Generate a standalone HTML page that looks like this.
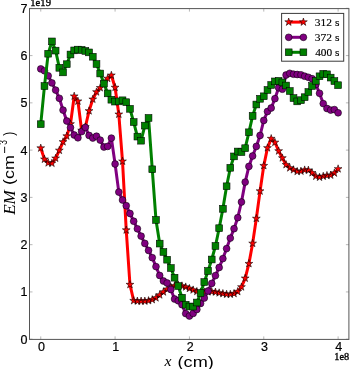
<!DOCTYPE html><html><head><meta charset="utf-8"><style>html,body{margin:0;padding:0;background:#fff;overflow:hidden;}svg{display:block;will-change:transform;}</style></head><body><svg width="350" height="369" viewBox="0 0 350 369"><rect width="350" height="369" fill="#fff"/><defs><clipPath id="c"><rect x="29.5" y="8.6" width="319.4" height="330.79999999999995"/></clipPath></defs><g clip-path="url(#c)"><polyline points="40.75,148.10 44.47,159.30 48.18,162.90 51.90,163.30 55.62,158.30 59.34,150.40 63.05,141.90 66.77,136.10 70.49,124.00 74.20,96.20 77.92,101.20 81.64,130.50 85.35,127.00 89.07,110.90 92.79,99.30 96.50,92.00 100.22,87.80 103.94,83.00 107.66,78.50 111.37,75.30 115.09,87.50 118.81,114.30 122.52,161.30 126.24,230.10 129.96,284.60 133.68,300.70 137.39,301.10 141.11,301.10 144.83,301.10 148.54,300.70 152.26,299.70 155.98,297.90 159.69,295.00 163.41,292.00 167.13,289.20 170.84,287.20 174.56,285.80 178.28,285.10 182.00,285.90 185.71,287.00 189.43,288.50 193.15,290.00 196.86,291.50 200.58,292.00 204.30,292.00 208.02,291.80 211.73,291.60 215.45,292.10 219.17,292.90 222.88,293.60 226.60,294.30 230.32,294.30 234.03,293.60 237.75,291.60 241.47,287.00 245.19,278.30 248.90,263.70 252.62,243.40 256.34,218.50 260.05,191.10 263.77,165.70 267.49,147.90 271.20,138.60 274.92,142.40 278.64,151.00 282.36,158.00 286.07,164.70 289.79,167.90 293.51,169.80 297.22,171.50 300.94,171.20 304.66,170.00 308.37,170.20 312.09,172.80 315.81,176.30 319.53,177.30 323.24,176.30 326.96,175.50 330.68,175.20 334.39,173.10 338.11,168.90" fill="none" stroke="#ff0000" stroke-width="3.0" stroke-linejoin="round" stroke-linecap="butt"/><g fill="#ff0000" stroke="#000" stroke-width="0.55" stroke-linejoin="miter"><path d="M40.75,144.00 L39.83,146.83 L36.85,146.83 L39.26,148.58 L38.34,151.42 L40.75,149.67 L43.16,151.42 L42.24,148.58 L44.65,146.83 L41.67,146.83ZM44.47,155.20 L43.55,158.03 L40.57,158.03 L42.98,159.78 L42.06,162.62 L44.47,160.87 L46.88,162.62 L45.96,159.78 L48.37,158.03 L45.39,158.03ZM48.18,158.80 L47.26,161.63 L44.28,161.63 L46.69,163.38 L45.77,166.22 L48.18,164.47 L50.59,166.22 L49.67,163.38 L52.08,161.63 L49.10,161.63ZM51.90,159.20 L50.98,162.03 L48.00,162.03 L50.41,163.78 L49.49,166.62 L51.90,164.87 L54.31,166.62 L53.39,163.78 L55.80,162.03 L52.82,162.03ZM55.62,154.20 L54.70,157.03 L51.72,157.03 L54.13,158.78 L53.21,161.62 L55.62,159.87 L58.03,161.62 L57.11,158.78 L59.52,157.03 L56.54,157.03ZM59.34,146.30 L58.41,149.13 L55.44,149.13 L57.85,150.88 L56.93,153.72 L59.34,151.97 L61.74,153.72 L60.82,150.88 L63.23,149.13 L60.26,149.13ZM63.05,137.80 L62.13,140.63 L59.15,140.63 L61.56,142.38 L60.64,145.22 L63.05,143.47 L65.46,145.22 L64.54,142.38 L66.95,140.63 L63.97,140.63ZM66.77,132.00 L65.85,134.83 L62.87,134.83 L65.28,136.58 L64.36,139.42 L66.77,137.67 L69.18,139.42 L68.26,136.58 L70.67,134.83 L67.69,134.83ZM70.49,119.90 L69.57,122.73 L66.59,122.73 L69.00,124.48 L68.08,127.32 L70.49,125.57 L72.90,127.32 L71.98,124.48 L74.39,122.73 L71.41,122.73ZM74.20,92.10 L73.28,94.93 L70.30,94.93 L72.71,96.68 L71.79,99.52 L74.20,97.77 L76.61,99.52 L75.69,96.68 L78.10,94.93 L75.12,94.93ZM77.92,97.10 L77.00,99.93 L74.02,99.93 L76.43,101.68 L75.51,104.52 L77.92,102.77 L80.33,104.52 L79.41,101.68 L81.82,99.93 L78.84,99.93ZM81.64,126.40 L80.72,129.23 L77.74,129.23 L80.15,130.98 L79.23,133.82 L81.64,132.07 L84.05,133.82 L83.13,130.98 L85.54,129.23 L82.56,129.23ZM85.35,122.90 L84.43,125.73 L81.45,125.73 L83.86,127.48 L82.94,130.32 L85.35,128.57 L87.76,130.32 L86.84,127.48 L89.25,125.73 L86.27,125.73ZM89.07,106.80 L88.15,109.63 L85.17,109.63 L87.58,111.38 L86.66,114.22 L89.07,112.47 L91.48,114.22 L90.56,111.38 L92.97,109.63 L89.99,109.63ZM92.79,95.20 L91.87,98.03 L88.89,98.03 L91.30,99.78 L90.38,102.62 L92.79,100.87 L95.20,102.62 L94.28,99.78 L96.69,98.03 L93.71,98.03ZM96.50,87.90 L95.58,90.73 L92.61,90.73 L95.02,92.48 L94.10,95.32 L96.50,93.57 L98.91,95.32 L97.99,92.48 L100.40,90.73 L97.43,90.73ZM100.22,83.70 L99.30,86.53 L96.32,86.53 L98.73,88.28 L97.81,91.12 L100.22,89.37 L102.63,91.12 L101.71,88.28 L104.12,86.53 L101.14,86.53ZM103.94,78.90 L103.02,81.73 L100.04,81.73 L102.45,83.48 L101.53,86.32 L103.94,84.57 L106.35,86.32 L105.43,83.48 L107.84,81.73 L104.86,81.73ZM107.66,74.40 L106.74,77.23 L103.76,77.23 L106.17,78.98 L105.25,81.82 L107.66,80.07 L110.07,81.82 L109.15,78.98 L111.56,77.23 L108.58,77.23ZM111.37,71.20 L110.45,74.03 L107.47,74.03 L109.88,75.78 L108.96,78.62 L111.37,76.87 L113.78,78.62 L112.86,75.78 L115.27,74.03 L112.29,74.03ZM115.09,83.40 L114.17,86.23 L111.19,86.23 L113.60,87.98 L112.68,90.82 L115.09,89.07 L117.50,90.82 L116.58,87.98 L118.99,86.23 L116.01,86.23ZM118.81,110.20 L117.89,113.03 L114.91,113.03 L117.32,114.78 L116.40,117.62 L118.81,115.87 L121.22,117.62 L120.30,114.78 L122.71,113.03 L119.73,113.03ZM122.52,157.20 L121.60,160.03 L118.62,160.03 L121.03,161.78 L120.11,164.62 L122.52,162.87 L124.93,164.62 L124.01,161.78 L126.42,160.03 L123.44,160.03ZM126.24,226.00 L125.32,228.83 L122.34,228.83 L124.75,230.58 L123.83,233.42 L126.24,231.67 L128.65,233.42 L127.73,230.58 L130.14,228.83 L127.16,228.83ZM129.96,280.50 L129.04,283.33 L126.06,283.33 L128.47,285.08 L127.55,287.92 L129.96,286.17 L132.37,287.92 L131.45,285.08 L133.86,283.33 L130.88,283.33ZM133.68,296.60 L132.75,299.43 L129.78,299.43 L132.19,301.18 L131.27,304.02 L133.68,302.27 L136.08,304.02 L135.16,301.18 L137.57,299.43 L134.60,299.43ZM137.39,297.00 L136.47,299.83 L133.49,299.83 L135.90,301.58 L134.98,304.42 L137.39,302.67 L139.80,304.42 L138.88,301.58 L141.29,299.83 L138.31,299.83ZM141.11,297.00 L140.19,299.83 L137.21,299.83 L139.62,301.58 L138.70,304.42 L141.11,302.67 L143.52,304.42 L142.60,301.58 L145.01,299.83 L142.03,299.83ZM144.83,297.00 L143.91,299.83 L140.93,299.83 L143.34,301.58 L142.42,304.42 L144.83,302.67 L147.24,304.42 L146.32,301.58 L148.73,299.83 L145.75,299.83ZM148.54,296.60 L147.62,299.43 L144.64,299.43 L147.05,301.18 L146.13,304.02 L148.54,302.27 L150.95,304.02 L150.03,301.18 L152.44,299.43 L149.46,299.43ZM152.26,295.60 L151.34,298.43 L148.36,298.43 L150.77,300.18 L149.85,303.02 L152.26,301.27 L154.67,303.02 L153.75,300.18 L156.16,298.43 L153.18,298.43ZM155.98,293.80 L155.06,296.63 L152.08,296.63 L154.49,298.38 L153.57,301.22 L155.98,299.47 L158.39,301.22 L157.47,298.38 L159.88,296.63 L156.90,296.63ZM159.69,290.90 L158.77,293.73 L155.79,293.73 L158.20,295.48 L157.28,298.32 L159.69,296.57 L162.10,298.32 L161.18,295.48 L163.59,293.73 L160.61,293.73ZM163.41,287.90 L162.49,290.73 L159.51,290.73 L161.92,292.48 L161.00,295.32 L163.41,293.57 L165.82,295.32 L164.90,292.48 L167.31,290.73 L164.33,290.73ZM167.13,285.10 L166.21,287.93 L163.23,287.93 L165.64,289.68 L164.72,292.52 L167.13,290.77 L169.54,292.52 L168.62,289.68 L171.03,287.93 L168.05,287.93ZM170.84,283.10 L169.92,285.93 L166.95,285.93 L169.36,287.68 L168.44,290.52 L170.84,288.77 L173.25,290.52 L172.33,287.68 L174.74,285.93 L171.77,285.93ZM174.56,281.70 L173.64,284.53 L170.66,284.53 L173.07,286.28 L172.15,289.12 L174.56,287.37 L176.97,289.12 L176.05,286.28 L178.46,284.53 L175.48,284.53ZM178.28,281.00 L177.36,283.83 L174.38,283.83 L176.79,285.58 L175.87,288.42 L178.28,286.67 L180.69,288.42 L179.77,285.58 L182.18,283.83 L179.20,283.83ZM182.00,281.80 L181.08,284.63 L178.10,284.63 L180.51,286.38 L179.59,289.22 L182.00,287.47 L184.41,289.22 L183.49,286.38 L185.90,284.63 L182.92,284.63ZM185.71,282.90 L184.79,285.73 L181.81,285.73 L184.22,287.48 L183.30,290.32 L185.71,288.57 L188.12,290.32 L187.20,287.48 L189.61,285.73 L186.63,285.73ZM189.43,284.40 L188.51,287.23 L185.53,287.23 L187.94,288.98 L187.02,291.82 L189.43,290.07 L191.84,291.82 L190.92,288.98 L193.33,287.23 L190.35,287.23ZM193.15,285.90 L192.23,288.73 L189.25,288.73 L191.66,290.48 L190.74,293.32 L193.15,291.57 L195.56,293.32 L194.64,290.48 L197.05,288.73 L194.07,288.73ZM196.86,287.40 L195.94,290.23 L192.96,290.23 L195.37,291.98 L194.45,294.82 L196.86,293.07 L199.27,294.82 L198.35,291.98 L200.76,290.23 L197.78,290.23ZM200.58,287.90 L199.66,290.73 L196.68,290.73 L199.09,292.48 L198.17,295.32 L200.58,293.57 L202.99,295.32 L202.07,292.48 L204.48,290.73 L201.50,290.73ZM204.30,287.90 L203.38,290.73 L200.40,290.73 L202.81,292.48 L201.89,295.32 L204.30,293.57 L206.71,295.32 L205.79,292.48 L208.20,290.73 L205.22,290.73ZM208.02,287.70 L207.09,290.53 L204.12,290.53 L206.53,292.28 L205.61,295.12 L208.02,293.37 L210.42,295.12 L209.50,292.28 L211.91,290.53 L208.94,290.53ZM211.73,287.50 L210.81,290.33 L207.83,290.33 L210.24,292.08 L209.32,294.92 L211.73,293.17 L214.14,294.92 L213.22,292.08 L215.63,290.33 L212.65,290.33ZM215.45,288.00 L214.53,290.83 L211.55,290.83 L213.96,292.58 L213.04,295.42 L215.45,293.67 L217.86,295.42 L216.94,292.58 L219.35,290.83 L216.37,290.83ZM219.17,288.80 L218.25,291.63 L215.27,291.63 L217.68,293.38 L216.76,296.22 L219.17,294.47 L221.58,296.22 L220.66,293.38 L223.07,291.63 L220.09,291.63ZM222.88,289.50 L221.96,292.33 L218.98,292.33 L221.39,294.08 L220.47,296.92 L222.88,295.17 L225.29,296.92 L224.37,294.08 L226.78,292.33 L223.80,292.33ZM226.60,290.20 L225.68,293.03 L222.70,293.03 L225.11,294.78 L224.19,297.62 L226.60,295.87 L229.01,297.62 L228.09,294.78 L230.50,293.03 L227.52,293.03ZM230.32,290.20 L229.40,293.03 L226.42,293.03 L228.83,294.78 L227.91,297.62 L230.32,295.87 L232.73,297.62 L231.81,294.78 L234.22,293.03 L231.24,293.03ZM234.03,289.50 L233.11,292.33 L230.13,292.33 L232.54,294.08 L231.62,296.92 L234.03,295.17 L236.44,296.92 L235.52,294.08 L237.93,292.33 L234.95,292.33ZM237.75,287.50 L236.83,290.33 L233.85,290.33 L236.26,292.08 L235.34,294.92 L237.75,293.17 L240.16,294.92 L239.24,292.08 L241.65,290.33 L238.67,290.33ZM241.47,282.90 L240.55,285.73 L237.57,285.73 L239.98,287.48 L239.06,290.32 L241.47,288.57 L243.88,290.32 L242.96,287.48 L245.37,285.73 L242.39,285.73ZM245.19,274.20 L244.26,277.03 L241.29,277.03 L243.70,278.78 L242.78,281.62 L245.19,279.87 L247.59,281.62 L246.67,278.78 L249.08,277.03 L246.11,277.03ZM248.90,259.60 L247.98,262.43 L245.00,262.43 L247.41,264.18 L246.49,267.02 L248.90,265.27 L251.31,267.02 L250.39,264.18 L252.80,262.43 L249.82,262.43ZM252.62,239.30 L251.70,242.13 L248.72,242.13 L251.13,243.88 L250.21,246.72 L252.62,244.97 L255.03,246.72 L254.11,243.88 L256.52,242.13 L253.54,242.13ZM256.34,214.40 L255.42,217.23 L252.44,217.23 L254.85,218.98 L253.93,221.82 L256.34,220.07 L258.75,221.82 L257.83,218.98 L260.24,217.23 L257.26,217.23ZM260.05,187.00 L259.13,189.83 L256.15,189.83 L258.56,191.58 L257.64,194.42 L260.05,192.67 L262.46,194.42 L261.54,191.58 L263.95,189.83 L260.97,189.83ZM263.77,161.60 L262.85,164.43 L259.87,164.43 L262.28,166.18 L261.36,169.02 L263.77,167.27 L266.18,169.02 L265.26,166.18 L267.67,164.43 L264.69,164.43ZM267.49,143.80 L266.57,146.63 L263.59,146.63 L266.00,148.38 L265.08,151.22 L267.49,149.47 L269.90,151.22 L268.98,148.38 L271.39,146.63 L268.41,146.63ZM271.20,134.50 L270.28,137.33 L267.30,137.33 L269.71,139.08 L268.79,141.92 L271.20,140.17 L273.61,141.92 L272.69,139.08 L275.10,137.33 L272.12,137.33ZM274.92,138.30 L274.00,141.13 L271.02,141.13 L273.43,142.88 L272.51,145.72 L274.92,143.97 L277.33,145.72 L276.41,142.88 L278.82,141.13 L275.84,141.13ZM278.64,146.90 L277.72,149.73 L274.74,149.73 L277.15,151.48 L276.23,154.32 L278.64,152.57 L281.05,154.32 L280.13,151.48 L282.54,149.73 L279.56,149.73ZM282.36,153.90 L281.43,156.73 L278.46,156.73 L280.87,158.48 L279.95,161.32 L282.36,159.57 L284.76,161.32 L283.84,158.48 L286.25,156.73 L283.28,156.73ZM286.07,160.60 L285.15,163.43 L282.17,163.43 L284.58,165.18 L283.66,168.02 L286.07,166.27 L288.48,168.02 L287.56,165.18 L289.97,163.43 L286.99,163.43ZM289.79,163.80 L288.87,166.63 L285.89,166.63 L288.30,168.38 L287.38,171.22 L289.79,169.47 L292.20,171.22 L291.28,168.38 L293.69,166.63 L290.71,166.63ZM293.51,165.70 L292.59,168.53 L289.61,168.53 L292.02,170.28 L291.10,173.12 L293.51,171.37 L295.92,173.12 L295.00,170.28 L297.41,168.53 L294.43,168.53ZM297.22,167.40 L296.30,170.23 L293.32,170.23 L295.73,171.98 L294.81,174.82 L297.22,173.07 L299.63,174.82 L298.71,171.98 L301.12,170.23 L298.14,170.23ZM300.94,167.10 L300.02,169.93 L297.04,169.93 L299.45,171.68 L298.53,174.52 L300.94,172.77 L303.35,174.52 L302.43,171.68 L304.84,169.93 L301.86,169.93ZM304.66,165.90 L303.74,168.73 L300.76,168.73 L303.17,170.48 L302.25,173.32 L304.66,171.57 L307.07,173.32 L306.15,170.48 L308.56,168.73 L305.58,168.73ZM308.37,166.10 L307.45,168.93 L304.47,168.93 L306.88,170.68 L305.96,173.52 L308.37,171.77 L310.78,173.52 L309.86,170.68 L312.27,168.93 L309.29,168.93ZM312.09,168.70 L311.17,171.53 L308.19,171.53 L310.60,173.28 L309.68,176.12 L312.09,174.37 L314.50,176.12 L313.58,173.28 L315.99,171.53 L313.01,171.53ZM315.81,172.20 L314.89,175.03 L311.91,175.03 L314.32,176.78 L313.40,179.62 L315.81,177.87 L318.22,179.62 L317.30,176.78 L319.71,175.03 L316.73,175.03ZM319.53,173.20 L318.60,176.03 L315.63,176.03 L318.04,177.78 L317.12,180.62 L319.53,178.87 L321.93,180.62 L321.01,177.78 L323.42,176.03 L320.45,176.03ZM323.24,172.20 L322.32,175.03 L319.34,175.03 L321.75,176.78 L320.83,179.62 L323.24,177.87 L325.65,179.62 L324.73,176.78 L327.14,175.03 L324.16,175.03ZM326.96,171.40 L326.04,174.23 L323.06,174.23 L325.47,175.98 L324.55,178.82 L326.96,177.07 L329.37,178.82 L328.45,175.98 L330.86,174.23 L327.88,174.23ZM330.68,171.10 L329.76,173.93 L326.78,173.93 L329.19,175.68 L328.27,178.52 L330.68,176.77 L333.09,178.52 L332.17,175.68 L334.58,173.93 L331.60,173.93ZM334.39,169.00 L333.47,171.83 L330.49,171.83 L332.90,173.58 L331.98,176.42 L334.39,174.67 L336.80,176.42 L335.88,173.58 L338.29,171.83 L335.31,171.83ZM338.11,164.80 L337.19,167.63 L334.21,167.63 L336.62,169.38 L335.70,172.22 L338.11,170.47 L340.52,172.22 L339.60,169.38 L342.01,167.63 L339.03,167.63Z"/></g><polyline points="40.75,68.90 44.47,70.80 48.18,75.80 51.90,82.90 55.62,90.10 59.34,98.30 63.05,110.10 66.77,121.00 70.49,127.60 74.20,135.00 77.92,137.80 81.64,131.60 85.35,127.40 89.07,135.40 92.79,138.00 96.50,136.20 100.22,140.10 103.94,147.00 107.66,146.40 111.37,138.10 115.09,164.00 118.81,192.10 122.52,200.00 126.24,205.70 129.96,213.50 133.68,221.20 137.39,228.80 141.11,236.10 144.83,243.40 148.54,250.40 152.26,257.70 155.98,266.60 159.69,275.50 163.41,281.00 167.13,283.00 170.84,289.50 174.56,299.00 178.28,300.80 182.00,304.70 185.71,313.60 189.43,316.00 193.15,313.40 196.86,309.50 200.58,303.50 204.30,298.00 208.02,291.00 211.73,283.40 215.45,275.60 219.17,267.50 222.88,258.60 226.60,248.60 230.32,238.10 234.03,228.70 237.75,217.70 241.47,202.00 245.19,182.10 248.90,166.40 252.62,156.00 256.34,146.40 260.05,135.50 263.77,120.40 267.49,111.50 271.20,108.00 274.92,98.70 278.64,87.70 282.36,89.20 286.07,75.00 289.79,73.30 293.51,74.20 297.22,74.50 300.94,74.80 304.66,76.20 308.37,77.30 312.09,78.70 315.81,84.40 319.53,93.30 323.24,103.60 326.96,108.50 330.68,110.10 334.39,109.60 338.11,112.80" fill="none" stroke="#800080" stroke-width="3.0" stroke-linejoin="round" stroke-linecap="butt"/><g fill="#800080" stroke="#000" stroke-width="0.55"><circle cx="40.75" cy="68.90" r="3.40"/><circle cx="44.47" cy="70.80" r="3.40"/><circle cx="48.18" cy="75.80" r="3.40"/><circle cx="51.90" cy="82.90" r="3.40"/><circle cx="55.62" cy="90.10" r="3.40"/><circle cx="59.34" cy="98.30" r="3.40"/><circle cx="63.05" cy="110.10" r="3.40"/><circle cx="66.77" cy="121.00" r="3.40"/><circle cx="70.49" cy="127.60" r="3.40"/><circle cx="74.20" cy="135.00" r="3.40"/><circle cx="77.92" cy="137.80" r="3.40"/><circle cx="81.64" cy="131.60" r="3.40"/><circle cx="85.35" cy="127.40" r="3.40"/><circle cx="89.07" cy="135.40" r="3.40"/><circle cx="92.79" cy="138.00" r="3.40"/><circle cx="96.50" cy="136.20" r="3.40"/><circle cx="100.22" cy="140.10" r="3.40"/><circle cx="103.94" cy="147.00" r="3.40"/><circle cx="107.66" cy="146.40" r="3.40"/><circle cx="111.37" cy="138.10" r="3.40"/><circle cx="115.09" cy="164.00" r="3.40"/><circle cx="118.81" cy="192.10" r="3.40"/><circle cx="122.52" cy="200.00" r="3.40"/><circle cx="126.24" cy="205.70" r="3.40"/><circle cx="129.96" cy="213.50" r="3.40"/><circle cx="133.68" cy="221.20" r="3.40"/><circle cx="137.39" cy="228.80" r="3.40"/><circle cx="141.11" cy="236.10" r="3.40"/><circle cx="144.83" cy="243.40" r="3.40"/><circle cx="148.54" cy="250.40" r="3.40"/><circle cx="152.26" cy="257.70" r="3.40"/><circle cx="155.98" cy="266.60" r="3.40"/><circle cx="159.69" cy="275.50" r="3.40"/><circle cx="163.41" cy="281.00" r="3.40"/><circle cx="167.13" cy="283.00" r="3.40"/><circle cx="170.84" cy="289.50" r="3.40"/><circle cx="174.56" cy="299.00" r="3.40"/><circle cx="178.28" cy="300.80" r="3.40"/><circle cx="182.00" cy="304.70" r="3.40"/><circle cx="185.71" cy="313.60" r="3.40"/><circle cx="189.43" cy="316.00" r="3.40"/><circle cx="193.15" cy="313.40" r="3.40"/><circle cx="196.86" cy="309.50" r="3.40"/><circle cx="200.58" cy="303.50" r="3.40"/><circle cx="204.30" cy="298.00" r="3.40"/><circle cx="208.02" cy="291.00" r="3.40"/><circle cx="211.73" cy="283.40" r="3.40"/><circle cx="215.45" cy="275.60" r="3.40"/><circle cx="219.17" cy="267.50" r="3.40"/><circle cx="222.88" cy="258.60" r="3.40"/><circle cx="226.60" cy="248.60" r="3.40"/><circle cx="230.32" cy="238.10" r="3.40"/><circle cx="234.03" cy="228.70" r="3.40"/><circle cx="237.75" cy="217.70" r="3.40"/><circle cx="241.47" cy="202.00" r="3.40"/><circle cx="245.19" cy="182.10" r="3.40"/><circle cx="248.90" cy="166.40" r="3.40"/><circle cx="252.62" cy="156.00" r="3.40"/><circle cx="256.34" cy="146.40" r="3.40"/><circle cx="260.05" cy="135.50" r="3.40"/><circle cx="263.77" cy="120.40" r="3.40"/><circle cx="267.49" cy="111.50" r="3.40"/><circle cx="271.20" cy="108.00" r="3.40"/><circle cx="274.92" cy="98.70" r="3.40"/><circle cx="278.64" cy="87.70" r="3.40"/><circle cx="282.36" cy="89.20" r="3.40"/><circle cx="286.07" cy="75.00" r="3.40"/><circle cx="289.79" cy="73.30" r="3.40"/><circle cx="293.51" cy="74.20" r="3.40"/><circle cx="297.22" cy="74.50" r="3.40"/><circle cx="300.94" cy="74.80" r="3.40"/><circle cx="304.66" cy="76.20" r="3.40"/><circle cx="308.37" cy="77.30" r="3.40"/><circle cx="312.09" cy="78.70" r="3.40"/><circle cx="315.81" cy="84.40" r="3.40"/><circle cx="319.53" cy="93.30" r="3.40"/><circle cx="323.24" cy="103.60" r="3.40"/><circle cx="326.96" cy="108.50" r="3.40"/><circle cx="330.68" cy="110.10" r="3.40"/><circle cx="334.39" cy="109.60" r="3.40"/><circle cx="338.11" cy="112.80" r="3.40"/></g><polyline points="40.75,124.20 44.47,86.10 48.18,53.70 51.90,41.40 55.62,50.60 59.34,67.80 63.05,72.40 66.77,64.20 70.49,54.50 74.20,50.40 77.92,49.60 81.64,49.90 85.35,50.90 89.07,52.40 92.79,56.70 96.50,64.00 100.22,73.50 103.94,83.60 107.66,93.40 111.37,99.70 115.09,101.60 118.81,101.40 122.52,100.30 126.24,102.20 129.96,108.80 133.68,122.10 137.39,136.60 141.11,140.70 144.83,125.60 148.54,117.90 152.26,169.30 155.98,219.90 159.69,243.60 163.41,252.00 167.13,259.70 170.84,268.00 174.56,277.70 178.28,286.00 182.00,297.70 185.71,304.70 189.43,306.50 193.15,306.60 196.86,302.50 200.58,293.10 204.30,282.10 208.02,271.00 211.73,259.50 215.45,246.00 219.17,228.20 222.88,208.80 226.60,186.30 230.32,167.80 234.03,156.40 237.75,151.50 241.47,152.10 245.19,148.20 248.90,132.30 252.62,115.90 256.34,104.50 260.05,98.80 263.77,96.30 267.49,90.00 271.20,85.00 274.92,81.40 278.64,80.90 282.36,82.40 286.07,85.50 289.79,91.00 293.51,98.10 297.22,101.40 300.94,100.20 304.66,97.20 308.37,92.00 312.09,86.00 315.81,80.80 319.53,76.30 323.24,73.80 326.96,74.30 330.68,77.60 334.39,81.10 338.11,85.20" fill="none" stroke="#008000" stroke-width="3.0" stroke-linejoin="round" stroke-linecap="butt"/><g fill="#008000" stroke="#000" stroke-width="0.55"><rect x="37.35" y="120.80" width="6.80" height="6.80"/><rect x="41.07" y="82.70" width="6.80" height="6.80"/><rect x="44.78" y="50.30" width="6.80" height="6.80"/><rect x="48.50" y="38.00" width="6.80" height="6.80"/><rect x="52.22" y="47.20" width="6.80" height="6.80"/><rect x="55.94" y="64.40" width="6.80" height="6.80"/><rect x="59.65" y="69.00" width="6.80" height="6.80"/><rect x="63.37" y="60.80" width="6.80" height="6.80"/><rect x="67.09" y="51.10" width="6.80" height="6.80"/><rect x="70.80" y="47.00" width="6.80" height="6.80"/><rect x="74.52" y="46.20" width="6.80" height="6.80"/><rect x="78.24" y="46.50" width="6.80" height="6.80"/><rect x="81.95" y="47.50" width="6.80" height="6.80"/><rect x="85.67" y="49.00" width="6.80" height="6.80"/><rect x="89.39" y="53.30" width="6.80" height="6.80"/><rect x="93.10" y="60.60" width="6.80" height="6.80"/><rect x="96.82" y="70.10" width="6.80" height="6.80"/><rect x="100.54" y="80.20" width="6.80" height="6.80"/><rect x="104.26" y="90.00" width="6.80" height="6.80"/><rect x="107.97" y="96.30" width="6.80" height="6.80"/><rect x="111.69" y="98.20" width="6.80" height="6.80"/><rect x="115.41" y="98.00" width="6.80" height="6.80"/><rect x="119.12" y="96.90" width="6.80" height="6.80"/><rect x="122.84" y="98.80" width="6.80" height="6.80"/><rect x="126.56" y="105.40" width="6.80" height="6.80"/><rect x="130.28" y="118.70" width="6.80" height="6.80"/><rect x="133.99" y="133.20" width="6.80" height="6.80"/><rect x="137.71" y="137.30" width="6.80" height="6.80"/><rect x="141.43" y="122.20" width="6.80" height="6.80"/><rect x="145.14" y="114.50" width="6.80" height="6.80"/><rect x="148.86" y="165.90" width="6.80" height="6.80"/><rect x="152.58" y="216.50" width="6.80" height="6.80"/><rect x="156.29" y="240.20" width="6.80" height="6.80"/><rect x="160.01" y="248.60" width="6.80" height="6.80"/><rect x="163.73" y="256.30" width="6.80" height="6.80"/><rect x="167.44" y="264.60" width="6.80" height="6.80"/><rect x="171.16" y="274.30" width="6.80" height="6.80"/><rect x="174.88" y="282.60" width="6.80" height="6.80"/><rect x="178.60" y="294.30" width="6.80" height="6.80"/><rect x="182.31" y="301.30" width="6.80" height="6.80"/><rect x="186.03" y="303.10" width="6.80" height="6.80"/><rect x="189.75" y="303.20" width="6.80" height="6.80"/><rect x="193.46" y="299.10" width="6.80" height="6.80"/><rect x="197.18" y="289.70" width="6.80" height="6.80"/><rect x="200.90" y="278.70" width="6.80" height="6.80"/><rect x="204.62" y="267.60" width="6.80" height="6.80"/><rect x="208.33" y="256.10" width="6.80" height="6.80"/><rect x="212.05" y="242.60" width="6.80" height="6.80"/><rect x="215.77" y="224.80" width="6.80" height="6.80"/><rect x="219.48" y="205.40" width="6.80" height="6.80"/><rect x="223.20" y="182.90" width="6.80" height="6.80"/><rect x="226.92" y="164.40" width="6.80" height="6.80"/><rect x="230.63" y="153.00" width="6.80" height="6.80"/><rect x="234.35" y="148.10" width="6.80" height="6.80"/><rect x="238.07" y="148.70" width="6.80" height="6.80"/><rect x="241.78" y="144.80" width="6.80" height="6.80"/><rect x="245.50" y="128.90" width="6.80" height="6.80"/><rect x="249.22" y="112.50" width="6.80" height="6.80"/><rect x="252.94" y="101.10" width="6.80" height="6.80"/><rect x="256.65" y="95.40" width="6.80" height="6.80"/><rect x="260.37" y="92.90" width="6.80" height="6.80"/><rect x="264.09" y="86.60" width="6.80" height="6.80"/><rect x="267.80" y="81.60" width="6.80" height="6.80"/><rect x="271.52" y="78.00" width="6.80" height="6.80"/><rect x="275.24" y="77.50" width="6.80" height="6.80"/><rect x="278.96" y="79.00" width="6.80" height="6.80"/><rect x="282.67" y="82.10" width="6.80" height="6.80"/><rect x="286.39" y="87.60" width="6.80" height="6.80"/><rect x="290.11" y="94.70" width="6.80" height="6.80"/><rect x="293.82" y="98.00" width="6.80" height="6.80"/><rect x="297.54" y="96.80" width="6.80" height="6.80"/><rect x="301.26" y="93.80" width="6.80" height="6.80"/><rect x="304.97" y="88.60" width="6.80" height="6.80"/><rect x="308.69" y="82.60" width="6.80" height="6.80"/><rect x="312.41" y="77.40" width="6.80" height="6.80"/><rect x="316.13" y="72.90" width="6.80" height="6.80"/><rect x="319.84" y="70.40" width="6.80" height="6.80"/><rect x="323.56" y="70.90" width="6.80" height="6.80"/><rect x="327.28" y="74.20" width="6.80" height="6.80"/><rect x="330.99" y="77.70" width="6.80" height="6.80"/><rect x="334.71" y="81.80" width="6.80" height="6.80"/></g></g><path d="M40.75,339.4v-3M40.75,8.6v3M115.09,339.4v-3M115.09,8.6v3M189.43,339.4v-3M189.43,8.6v3M263.77,339.4v-3M263.77,8.6v3M338.11,339.4v-3M338.11,8.6v3M29.5,339.20h3M348.9,339.20h-3M29.5,291.93h3M348.9,291.93h-3M29.5,244.66h3M348.9,244.66h-3M29.5,197.39h3M348.9,197.39h-3M29.5,150.12h3M348.9,150.12h-3M29.5,102.85h3M348.9,102.85h-3M29.5,55.58h3M348.9,55.58h-3M29.5,8.31h3M348.9,8.31h-3" stroke="#888" stroke-width="0.6" fill="none"/><rect x="29.5" y="8.6" width="319.4" height="330.79999999999995" fill="none" stroke="#555" stroke-width="1"/><text x="41.45" y="351" font-family="Liberation Sans, sans-serif" font-size="12.5" text-anchor="middle" stroke="#000" stroke-width="0.2">0</text><text x="115.79" y="351" font-family="Liberation Sans, sans-serif" font-size="12.5" text-anchor="middle" stroke="#000" stroke-width="0.2">1</text><text x="190.13" y="351" font-family="Liberation Sans, sans-serif" font-size="12.5" text-anchor="middle" stroke="#000" stroke-width="0.2">2</text><text x="264.47" y="351" font-family="Liberation Sans, sans-serif" font-size="12.5" text-anchor="middle" stroke="#000" stroke-width="0.2">3</text><text x="338.81" y="351" font-family="Liberation Sans, sans-serif" font-size="12.5" text-anchor="middle" stroke="#000" stroke-width="0.2">4</text><text x="27.5" y="343.70" font-family="Liberation Sans, sans-serif" font-size="12.5" text-anchor="end" stroke="#000" stroke-width="0.2">0</text><text x="27.5" y="296.43" font-family="Liberation Sans, sans-serif" font-size="12.5" text-anchor="end" stroke="#000" stroke-width="0.2">1</text><text x="27.5" y="249.16" font-family="Liberation Sans, sans-serif" font-size="12.5" text-anchor="end" stroke="#000" stroke-width="0.2">2</text><text x="27.5" y="201.89" font-family="Liberation Sans, sans-serif" font-size="12.5" text-anchor="end" stroke="#000" stroke-width="0.2">3</text><text x="27.5" y="154.62" font-family="Liberation Sans, sans-serif" font-size="12.5" text-anchor="end" stroke="#000" stroke-width="0.2">4</text><text x="27.5" y="107.35" font-family="Liberation Sans, sans-serif" font-size="12.5" text-anchor="end" stroke="#000" stroke-width="0.2">5</text><text x="27.5" y="60.08" font-family="Liberation Sans, sans-serif" font-size="12.5" text-anchor="end" stroke="#000" stroke-width="0.2">6</text><text x="27.5" y="12.81" font-family="Liberation Sans, sans-serif" font-size="12.5" text-anchor="end" stroke="#000" stroke-width="0.2">7</text><text transform="translate(30.26,6.30) scale(0.9717,1)" font-family="Liberation Serif" font-style="normal" font-size="11" fill="#000" stroke="#000" stroke-width="0.35">1e19</text><text transform="translate(334.29,359.50) scale(1.0000,1)" font-family="Liberation Serif" font-style="normal" font-size="10.3" fill="#000" stroke="#000" stroke-width="0.35">1e8</text><text transform="translate(164.49,366.10) scale(1.0912,1)" font-family="Liberation Serif" font-style="italic" font-size="14.5" fill="#000" >x</text><text transform="translate(177.58,367.00) scale(1.1699,1)" font-family="Liberation Sans" font-style="normal" font-size="15.5" fill="#000" >(cm)</text><g transform="rotate(-90)"><text transform="translate(-214.80,14.50) scale(1.0029,1)" font-family="Liberation Serif" font-style="italic" font-size="17" fill="#000" >EM</text><text transform="translate(-184.91,14.30) scale(1.1535,1)" font-family="Liberation Sans" font-style="normal" font-size="15.5" fill="#000" >(cm</text><text transform="translate(-153.21,8.00) scale(1.2350,1)" font-family="Liberation Sans" font-style="normal" font-size="10" fill="#000" stroke="#000" stroke-width="0.25">−</text><text transform="translate(-144.72,7.30) scale(0.8035,1)" font-family="Liberation Sans" font-style="normal" font-size="10.5" fill="#000" >3</text><text transform="translate(-135.87,14.30) scale(0.7787,1)" font-family="Liberation Sans" font-style="normal" font-size="15.5" fill="#000" >)</text></g><rect x="281.6" y="13.4" width="62.099999999999966" height="47.800000000000004" fill="#fff" stroke="#3a3a3a" stroke-width="1"/><line x1="288.7" y1="22.1" x2="303.4" y2="22.1" stroke="#ff0000" stroke-width="3.0"/><path d="M288.70,18.00 L287.78,20.83 L284.80,20.83 L287.21,22.58 L286.29,25.42 L288.70,23.67 L291.11,25.42 L290.19,22.58 L292.60,20.83 L289.62,20.83Z" fill="#ff0000" stroke="#000" stroke-width="0.55"/><path d="M303.40,18.00 L302.48,20.83 L299.50,20.83 L301.91,22.58 L300.99,25.42 L303.40,23.67 L305.81,25.42 L304.89,22.58 L307.30,20.83 L304.32,20.83Z" fill="#ff0000" stroke="#000" stroke-width="0.55"/><text transform="translate(314.85,25.50) scale(1.0073,1)" font-family="Liberation Serif" font-style="normal" font-size="11.4" fill="#000" stroke="#000" stroke-width="0.15">312 s</text><line x1="288.7" y1="37.3" x2="303.4" y2="37.3" stroke="#800080" stroke-width="3.0"/><circle cx="288.7" cy="37.3" r="3.4" fill="#800080" stroke="#000" stroke-width="0.55"/><circle cx="303.4" cy="37.3" r="3.4" fill="#800080" stroke="#000" stroke-width="0.55"/><text transform="translate(314.85,40.70) scale(1.0073,1)" font-family="Liberation Serif" font-style="normal" font-size="11.4" fill="#000" stroke="#000" stroke-width="0.15">372 s</text><line x1="288.7" y1="52.3" x2="303.4" y2="52.3" stroke="#008000" stroke-width="3.0"/><rect x="285.3" y="48.9" width="6.8" height="6.8" fill="#008000" stroke="#000" stroke-width="0.55"/><rect x="300.0" y="48.9" width="6.8" height="6.8" fill="#008000" stroke="#000" stroke-width="0.55"/><text transform="translate(315.18,55.70) scale(0.9936,1)" font-family="Liberation Serif" font-style="normal" font-size="11.4" fill="#000" stroke="#000" stroke-width="0.15">400 s</text></svg></body></html>
